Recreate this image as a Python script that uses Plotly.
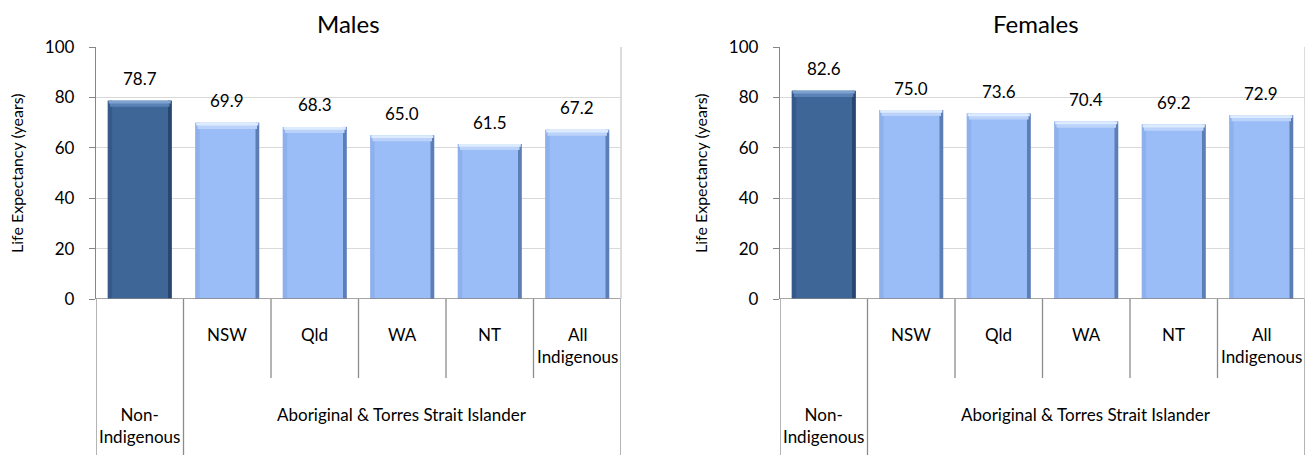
import plotly.graph_objects as go

categories = ["Non-Indigenous", "NSW", "Qld", "WA", "NT", "All Indigenous"]
tick_labels = ["Non-<br>Indigenous", "NSW", "Qld", "WA", "NT", "All<br>Indigenous"]
group_label = "Aboriginal & Torres Strait Islander"
males = [78.7, 69.9, 68.3, 65.0, 61.5, 67.2]
females = [82.6, 75.0, 73.6, 70.4, 69.2, 72.9]
panel_titles = ["Males", "Females"]
y_title = "Life Expectancy (years)"

FONT = "Lato"
SW, SH = 1313, 455          # screenshot size
OFF = 8                     # page body margin
FW, FH = SW - OFF, SH - OFF # figure size
TOP_PX, BOT_PX = 47, 299    # screen px of y=100 and y=0
X_PANELS = [(96, 621), (780, 1305)]
TITLE_X = [349, 1036]

main_col = ["#3E6697"] + ["#9BBDF7"] * 5
edge_col = ["#284770"] + ["#5D7DB5"] * 5
left_col = ["#35598A"] + ["#8EB0EC"] * 5
top_col1 = ["#7EA2D0"] + ["#DDEBFE"] * 5
top_col2 = ["#5A82B6"] + ["#BBD3FA"] * 5

BW = 0.73
EDGE_W = 0.042
LEFT_W = 0.05


def px_x(sx):
    return (sx - OFF) / FW


def px_y(sy):
    return 1 - (sy - OFF) / FH


def dom(sy):
    return (BOT_PX - sy) / (BOT_PX - TOP_PX)


fig = go.Figure()
annotations = []
shapes = []
n = len(categories)
idx = list(range(n))
TXT = dict(family=FONT, size=17, color="#000")

for p, (vals, title) in enumerate(zip([males, females], panel_titles)):
    sfx = "" if p == 0 else str(p + 1)
    xa, ya = "x" + sfx, "y" + sfx
    common = dict(xaxis=xa, yaxis=ya, showlegend=False, hoverinfo="skip")
    fig.add_trace(go.Bar(x=idx, y=vals, width=BW, marker=dict(color=main_col, line=dict(width=0)),
                         **common))
    fig.add_trace(go.Bar(x=idx, y=vals, width=LEFT_W, offset=-BW / 2,
                         marker=dict(color=left_col, line=dict(width=0)), **common))
    fig.add_trace(go.Bar(x=idx, y=vals, width=EDGE_W, offset=BW / 2 - EDGE_W,
                         marker=dict(color=edge_col, line=dict(width=0)), **common))
    fig.add_trace(go.Bar(x=idx, y=[2.4] * n, base=[v - 2.4 for v in vals], width=BW - 0.05,
                         marker=dict(color=top_col2, line=dict(width=0)), **common))
    fig.add_trace(go.Bar(x=idx, y=[1.1] * n, base=[v - 1.1 for v in vals], width=BW - 0.02,
                         marker=dict(color=top_col1, line=dict(width=0)), **common))

    sx0, sx1 = X_PANELS[p]
    fig.update_layout(**{
        "xaxis" + sfx: dict(domain=[px_x(sx0), px_x(sx1)], range=[-0.5, n - 0.5], anchor=ya,
                            automargin=False, showticklabels=False, showgrid=False,
                            zeroline=False, showline=False, ticks="", fixedrange=True),
        "yaxis" + sfx: dict(domain=[px_y(BOT_PX), px_y(TOP_PX)], range=[0, 100], dtick=20,
                            anchor=xa, showgrid=True, gridcolor="#D9D9D9", gridwidth=1,
                            automargin=False, zeroline=False, showline=True,
                            linecolor="#868686", linewidth=1.3,
                            ticks="outside", ticklen=6, tickcolor="#868686", tickwidth=1.3,
                            ticklabelstandoff=11,
                            tickfont=TXT, fixedrange=True),
    })

    # panel title
    annotations.append(dict(text=title, x=px_x(TITLE_X[p]), y=1, xref="paper", yref="paper",
                            xanchor="center", yanchor="top", borderpad=0,
                            showarrow=False, font=dict(family=FONT, size=24, color="#000")))
    # y axis title
    annotations.append(dict(text=y_title, x=px_x(sx0 - 80), y=px_y((TOP_PX + BOT_PX) / 2),
                            xref="paper", yref="paper", textangle=-90, xanchor="center",
                            yanchor="middle", showarrow=False,
                            font=dict(family=FONT, size=16, color="#000")))
    # data labels
    for i, v in enumerate(vals):
        annotations.append(dict(text=f"{v:.1f}", x=i, y=v, xref=xa, yref=ya, yshift=22,
                                yanchor="middle", showarrow=False, font=TXT))
    # category labels
    for i in range(1, n):
        two = "<br>" in tick_labels[i]
        annotations.append(dict(text=tick_labels[i], x=i, y=dom(346 if two else 335),
                                xref=xa, yref=ya + " domain", yanchor="middle",
                                showarrow=False, font=TXT))
    annotations.append(dict(text=tick_labels[0], x=0, y=dom(426), xref=xa, yref=ya + " domain",
                            yanchor="middle", showarrow=False, font=TXT))
    annotations.append(dict(text=group_label, x=(1 + n - 1) / 2, y=dom(415), xref=xa,
                            yref=ya + " domain", yanchor="middle", showarrow=False, font=TXT))

    # zero axis line and right border
    shapes.append(dict(type="line", xref=xa + " domain", yref=ya, x0=0, x1=1, y0=0, y1=0,
                       line=dict(color="#868686", width=1.5), layer="above"))
    shapes.append(dict(type="line", xref=xa + " domain", yref=ya + " domain", x0=1, x1=1,
                       y0=0, y1=1, line=dict(color="#D0D0D0", width=1.5)))
    # category dividers
    for b in [-0.5, 0.5, n - 0.5]:
        shapes.append(dict(type="line", xref=xa, yref=ya + " domain", x0=b, x1=b, y0=0,
                           y1=dom(SH + 4), line=dict(color="#8C8C8C", width=1.3)))
    for b in [1.5, 2.5, 3.5, 4.5]:
        shapes.append(dict(type="line", xref=xa, yref=ya + " domain", x0=b, x1=b, y0=0,
                           y1=dom(378), line=dict(color="#8C8C8C", width=1.3)))

fig.update_layout(width=FW, height=FH, margin=dict(l=0, r=0, t=0, b=0), template="none",
                  paper_bgcolor="white", plot_bgcolor="white", barmode="overlay",
                  annotations=annotations, shapes=shapes,
                  font=dict(family=FONT, color="#000"))

fig.write_html("out.html")
